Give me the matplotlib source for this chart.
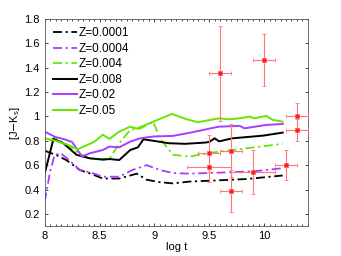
import matplotlib
matplotlib.use("Agg")
import matplotlib.pyplot as plt
from matplotlib.ticker import MultipleLocator

plt.rcParams['font.family'] = ['Liberation Sans', 'DejaVu Sans']

labels = ['Z=0.0001', 'Z=0.0004', 'Z=0.004', 'Z=0.008', 'Z=0.02', 'Z=0.05']

# Z=0.0001 (black dash-dot)
x1 = [8.0, 8.05, 8.09, 8.2, 8.32, 8.42, 8.53, 8.68, 8.76, 8.84, 8.93, 9.05, 9.17, 9.32, 9.53, 9.84, 10.0, 10.17]
y1 = [0.72, 0.70, 0.69, 0.64, 0.56, 0.53, 0.49, 0.49, 0.51, 0.53, 0.48, 0.46, 0.45, 0.465, 0.473, 0.486, 0.50, 0.515]
# Z=0.0004 (purple dash-dot)
x2 = [8.0, 8.05, 8.09, 8.14, 8.2, 8.32, 8.42, 8.53, 8.68, 8.8, 8.93, 9.05, 9.17, 9.32, 9.68, 9.93, 10.17]
y2 = [0.30, 0.55, 0.68, 0.70, 0.66, 0.56, 0.54, 0.505, 0.505, 0.56, 0.60, 0.56, 0.535, 0.53, 0.541, 0.552, 0.575]
# Z=0.004 (green dash-dot)
x3 = [8.05, 8.09, 8.2, 8.3, 8.41, 8.59, 8.68, 8.78, 8.87, 8.99, 9.05, 9.17, 9.32, 9.41, 9.59, 9.84, 10.17]
y3 = [0.80, 0.83, 0.77, 0.70, 0.655, 0.65, 0.78, 0.89, 0.90, 0.955, 0.82, 0.685, 0.67, 0.685, 0.711, 0.738, 0.775]
# Z=0.008 (black solid)
x4 = [8.0, 8.08, 8.17, 8.29, 8.41, 8.53, 8.59, 8.68, 8.78, 8.85, 8.9, 8.99, 9.13, 9.28, 9.46, 9.5, 9.55, 9.59, 9.71, 9.99, 10.17]
y4 = [0.53, 0.815, 0.78, 0.685, 0.656, 0.645, 0.65, 0.642, 0.724, 0.746, 0.812, 0.80, 0.78, 0.775, 0.785, 0.79, 0.82, 0.795, 0.82, 0.842, 0.867]
# Z=0.02 (purple solid)
x5 = [8.0, 8.1, 8.17, 8.25, 8.34, 8.41, 8.53, 8.59, 8.68, 8.78, 8.87, 8.99, 9.17, 9.32, 9.45, 9.59, 9.78, 9.82, 10.02, 10.17]
y5 = [0.875, 0.83, 0.815, 0.79, 0.67, 0.697, 0.724, 0.752, 0.746, 0.793, 0.82, 0.835, 0.84, 0.865, 0.89, 0.916, 0.922, 0.902, 0.93, 0.938]
# Z=0.05 (green solid)
x6 = [8.0, 8.1, 8.2, 8.3, 8.4, 8.45, 8.53, 8.59, 8.68, 8.78, 8.84, 8.99, 9.16, 9.3, 9.4, 9.47, 9.59, 9.68, 9.78, 9.87, 9.91, 10.02, 10.08, 10.17]
y6 = [0.82, 0.80, 0.77, 0.73, 0.77, 0.79, 0.85, 0.815, 0.875, 0.916, 0.90, 0.957, 1.02, 0.975, 0.952, 0.965, 0.984, 0.976, 0.985, 0.998, 0.984, 1.004, 0.971, 0.957]

# observed clusters
obs_x = [9.6, 10.0, 10.3, 10.3, 10.2, 9.5, 9.5, 9.7, 9.7, 9.9]
obs_y = [1.354, 1.463, 1.0, 0.89, 0.601, 0.697, 0.582, 0.719, 0.388, 0.541]
obs_xerr = [0.1, 0.1, 0.1, 0.1, 0.1, 0.1, 0.2, 0.1, 0.1, 0.2]
obs_yerr = [0.39, 0.21, 0.11, 0.09, 0.12, 0.15, 0.12, 0.22, 0.17, 0.18]

xticks = [8, 8.5, 9, 9.5, 10]
yticks = [0.2, 0.4, 0.6, 0.8, 1.0, 1.2, 1.4, 1.6, 1.8]
yticklabels = ['0.2', '0.4', '0.6', '0.8', '1', '1.2', '1.4', '1.6', '1.8']

purple = '#a83cff'
green = '#66e600'
dd = (0, (5, 2, 1.2, 2))

fig = plt.figure(figsize=(3.41, 2.56), dpi=100)
ax = fig.add_axes([0.131, 0.117, 0.772, 0.809])

ax.plot(x1, y1, color='black', ls=dd, lw=1.3, label=labels[0])
ax.plot(x2, y2, color=purple, ls=dd, lw=1.3, label=labels[1])
ax.plot(x3, y3, color=green, ls=dd, lw=1.3, label=labels[2])
ax.plot(x4, y4, color='black', ls='-', lw=1.4, label=labels[3])
ax.plot(x5, y5, color=purple, ls='-', lw=1.4, label=labels[4])
ax.plot(x6, y6, color=green, ls='-', lw=1.4, label=labels[5])

ax.errorbar(obs_x, obs_y, xerr=obs_xerr, yerr=obs_yerr, fmt='s', color='#ff7777',
            ecolor='#ff7777', elinewidth=0.8, capsize=1.5, capthick=0.8,
            markersize=3.2, markerfacecolor='#ff1a1a', markeredgecolor='#ff6060',
            markeredgewidth=0.6, zorder=3)

ax.set_xlim(8, 10.4)
ax.set_ylim(0.1, 1.8)
ax.set_xticks(xticks)
ax.set_xticklabels(['8', '8.5', '9', '9.5', '10'])
ax.set_yticks(yticks)
ax.set_yticklabels(yticklabels)
ax.xaxis.set_minor_locator(MultipleLocator(0.05))
ax.tick_params(which='both', direction='in', top=True, right=True, labelsize=8, colors='black')
ax.tick_params(which='major', length=2.5, width=0.5)
ax.tick_params(which='minor', length=1.3, width=0.5)
for s in ax.spines.values():
    s.set_linewidth(0.6)
    s.set_color('#555555')

ax.set_xlabel('log t', fontsize=8, labelpad=1)
ax.set_ylabel(r'[J$-$K$_\mathregular{s}$]', fontsize=8, labelpad=2)

leg = ax.legend(loc='upper left', frameon=False, fontsize=8.5, handlelength=2.0,
                handletextpad=0.2, labelspacing=0.3, borderaxespad=0.3,
                bbox_to_anchor=(0.0, 1.0))

fig.savefig('out.png', dpi=100)
